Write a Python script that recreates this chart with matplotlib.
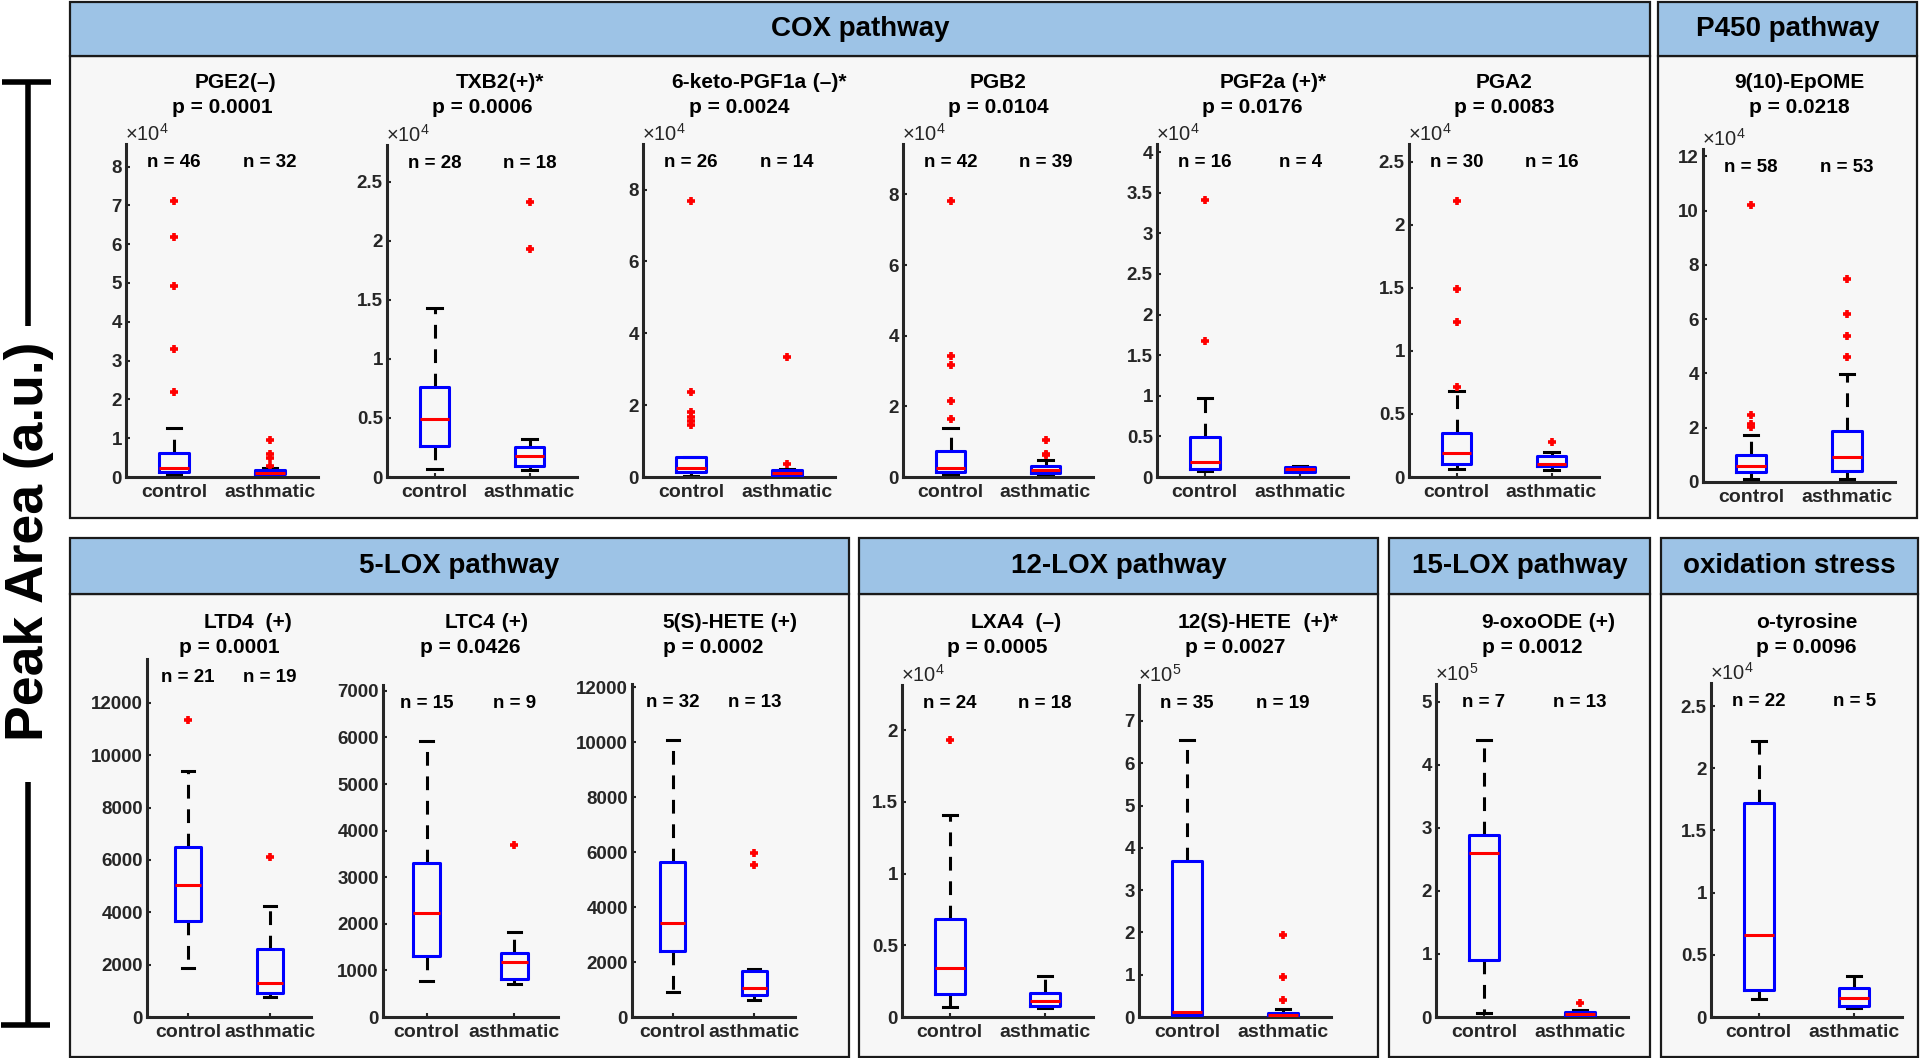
import numpy as np
import matplotlib.pyplot as plt
from matplotlib.patches import Rectangle
from matplotlib.lines import Line2D

plt.rcParams['font.family'] = ['Liberation Sans', 'DejaVu Sans']
plt.rcParams['mathtext.default'] = 'regular'

W, H = 1920, 1058

# ---------------- data ----------------
names = ['PGE2', 'TXB2', '6-keto-PGF1a', 'PGB2', 'PGF2a', 'PGA2', '9(10)-EpOME',
         'LTD4', 'LTC4', '5(S)-HETE', 'LXA4', '12(S)-HETE', '9-oxoODE', 'o-tyrosine']
signs = ['(–)', '(+)*', ' (–)*', '', ' (+)*', '', '',
         '  (+)', ' (+)', ' (+)', '  (–)', '  (+)*', ' (+)', '']
pvals = ['0.0001', '0.0006', '0.0024', '0.0104', '0.0176', '0.0083', '0.0218',
         '0.0001', '0.0426', '0.0002', '0.0005', '0.0027', '0.0012', '0.0096']
n_ctrl = [46, 28, 26, 42, 16, 30, 58, 21, 15, 32, 24, 35, 7, 22]
n_asth = [32, 18, 14, 39, 4, 16, 53, 19, 9, 13, 18, 19, 13, 5]
groups = ['control', 'asthmatic']

# box statistics (raw peak area)
ctrl_q1 = [1300, 2600, 1400, 1400, 1000, 1060, 3700, 3676, 1319, 2400, 1600, 4000, 91000, 2200]
ctrl_med = [2400, 4900, 2500, 2600, 1850, 1940, 5900, 5042, 2240, 3437, 3450, 11000, 260000, 6570]
ctrl_q3 = [6200, 7600, 5600, 7400, 4900, 3500, 9800, 6486, 3308, 5650, 6870, 370000, 288000, 17200]
ctrl_lo = [400, 700, 300, 500, 700, 660, 1000, 1891, 766, 900, 700, 2000, 6500, 1440]
ctrl_hi = [12500, 14300, 5600, 13800, 9700, 6800, 17200, 9414, 5931, 10062, 14100, 654000, 439000, 22200]
ctrl_out = [[71200, 61900, 49300, 33000, 21800], [], [76900, 23800, 18200, 16800, 15700, 14500],
            [78300, 34300, 31600, 21500, 16400], [34100, 16700], [21900, 14900, 12300, 7100],
            [101900, 24600, 21300, 20300], [11357], [], [], [19300], [], [], []]

asth_q1 = [700, 900, 400, 1100, 600, 850, 4100, 906, 810, 800, 770, 2000, 1000, 910]
asth_med = [1100, 1800, 1000, 2100, 950, 1060, 9200, 1313, 1171, 1062, 1130, 4000, 4000, 1520]
asth_q3 = [1700, 2500, 2000, 3000, 1200, 1670, 18800, 2587, 1363, 1675, 1650, 10000, 8000, 2350]
asth_lo = [300, 600, 200, 500, 600, 530, 1000, 748, 715, 612, 650, 1000, 500, 750]
asth_hi = [2400, 3200, 2200, 4900, 1300, 2000, 39800, 4254, 1820, 1750, 2850, 18000, 11000, 3300]
asth_out = [[9500, 6000, 5000, 2800], [23300, 19300], [33300, 3600], [10400, 6600, 6200], [],
            [2800], [74800, 62000, 53800, 46000], [6132], [3684], [5962, 5512], [],
            [193000, 95000, 40000], [22000], []]

# y axis: exponent of the multiplier, tick step, last tick, upper limit (raw)
y_exp = [4, 4, 4, 4, 4, 4, 4, 0, 0, 0, 4, 5, 5, 4]
y_step = [10000, 5000, 20000, 20000, 5000, 5000, 20000, 2000, 1000, 2000, 5000, 100000, 100000, 5000]
y_tmax = [80000, 25000, 80000, 80000, 40000, 25000, 120000, 12000, 7000, 12000, 20000, 700000, 500000, 25000]
y_top = [85800, 28100, 92700, 94300, 41000, 26400, 122700, 13680, 7125, 12112, 23160, 785000, 528000, 26850]

# pathway headers
pathways = ['COX pathway', 'P450 pathway', '5-LOX pathway', '12-LOX pathway', '15-LOX pathway', 'oxidation stress']

# ---------------- layout (pixels) ----------------
# axes: left, right, top, bottom
axes_px = [(126, 318, 144, 477), (387, 577, 145, 477), (643, 835, 144, 477), (903, 1093, 144, 477),
           (1157, 1348, 144, 477), (1409, 1599, 144, 477), (1703, 1895, 149, 482),
           (147, 311, 659, 1017), (383, 558, 685, 1017), (632, 795, 684, 1017),
           (902, 1093, 685, 1017), (1139, 1331, 685, 1017), (1436, 1628, 684, 1017), (1711, 1902, 683, 1017)]
row_of = [0] * 7 + [1] * 7
title_y = [(88, 113), (628, 653)]
# panels: x0, x1, top, header bottom, bottom
panels_px = [(70, 1650, 2, 56, 518), (1658, 1917, 2, 56, 518),
             (70, 849, 538, 594, 1057), (859, 1378, 538, 594, 1057),
             (1389, 1650, 538, 594, 1057), (1661, 1918, 538, 594, 1057)]


def fx(px):
    return px / W


def fy(py):
    return 1 - py / H


fig = plt.figure(figsize=(19.2, 10.58), dpi=100)

# pathway panels
for label, (x0, x1, y0, yh, y1) in zip(pathways, panels_px):
    fig.add_artist(Rectangle((fx(x0), fy(y1)), fx(x1) - fx(x0), fy(yh) - fy(y1),
                             transform=fig.transFigure, facecolor='#f7f7f7',
                             edgecolor='#1a1a1a', lw=1.6, zorder=-5))
    fig.add_artist(Rectangle((fx(x0), fy(yh)), fx(x1) - fx(x0), fy(y0) - fy(yh),
                             transform=fig.transFigure, facecolor='#9dc3e6',
                             edgecolor='#1a1a1a', lw=1.6, zorder=-4))
    fig.text(fx((x0 + x1) / 2), fy((y0 + yh) / 2), label, ha='center', va='center',
             fontsize=20, fontweight='bold')

# shared y label with bracket
fig.text(fx(29), fy(541), 'Peak Area (a.u.)', rotation=90, ha='center', va='center',
         fontsize=38.5, fontweight='bold')
bk = dict(color='black', lw=4, transform=fig.transFigure, solid_capstyle='butt')
fig.add_artist(Line2D([fx(28), fx(28)], [fy(82), fy(326)], **bk))
fig.add_artist(Line2D([fx(28), fx(28)], [fy(782), fy(1025)], **bk))
fig.add_artist(Line2D([fx(2), fx(51)], [fy(82), fy(82)], **bk))
fig.add_artist(Line2D([fx(1), fx(50)], [fy(1025), fy(1025)], **bk))

for i in range(len(names)):
    l, r, t, b = axes_px[i]
    ax = fig.add_axes([fx(l), fy(b), fx(r) - fx(l), fy(t) - fy(b)])
    ax.set_facecolor('none')

    stats = [dict(med=ctrl_med[i], q1=ctrl_q1[i], q3=ctrl_q3[i], whislo=ctrl_lo[i],
                  whishi=ctrl_hi[i], fliers=ctrl_out[i]),
             dict(med=asth_med[i], q1=asth_q1[i], q3=asth_q3[i], whislo=asth_lo[i],
                  whishi=asth_hi[i], fliers=asth_out[i])]
    ax.bxp(stats, positions=[1, 2], widths=0.31, capwidths=0.15, manage_ticks=False,
           boxprops=dict(color='#0000ff', linewidth=2.2, zorder=4),
           medianprops=dict(color='#ff0000', linewidth=2.2, zorder=5),
           whiskerprops=dict(color='black', linewidth=2.2, linestyle=(0, (4.5, 3.5)), zorder=2),
           capprops=dict(color='black', linewidth=2.2, zorder=2),
           flierprops=dict(marker='+', markeredgecolor='#ff0000', markersize=6,
                           markeredgewidth=2.6, linestyle='none', zorder=3))

    ax.set_xlim(0.5, 2.5)
    ax.set_ylim(0, y_top[i])
    for s in ['top', 'right']:
        ax.spines[s].set_visible(False)
    for s in ['left', 'bottom']:
        ax.spines[s].set_linewidth(2.2)
        ax.spines[s].set_color('#262626')
    ax.tick_params(direction='in', length=3, width=1.5, colors='#262626')
    ax.tick_params(axis='y', pad=3)
    ax.tick_params(axis='x', pad=5)

    ticks = np.arange(0, y_tmax[i] + y_step[i] / 2, y_step[i])
    ax.set_yticks(ticks)
    ax.set_yticklabels([f'{v / 10 ** y_exp[i]:g}' for v in ticks], fontsize=13.5,
                       fontweight='bold', color='#262626')
    ax.set_xticks([1, 2])
    ax.set_xticklabels(groups, fontsize=14, fontweight='bold', color='#262626')

    if y_exp[i] > 0:
        ax.text(-0.005, 0.998, r'$\times10^{%d}$' % y_exp[i], transform=ax.transAxes,
                ha='left', va='bottom', fontsize=14.5, color='#262626')

    # n labels
    for xpos, n in zip([1, 2], [n_ctrl[i], n_asth[i]]):
        ax.annotate(f'n = {n}', xy=(xpos, 1), xycoords=('data', 'axes fraction'),
                    xytext=(0, -23 * 0.72), textcoords='offset points',
                    ha='center', va='baseline', fontsize=13.5, fontweight='bold')

    # title: compound name (+ sign) and p value
    cx = fx((l + r) / 2)
    ny, py = title_y[row_of[i]]
    tn = fig.text(cx, fy(ny), names[i], ha='center', va='baseline',
                  fontsize=15, fontweight='bold')
    if signs[i]:
        ax.annotate(signs[i], xy=(1, 0), xycoords=tn, ha='left', va='bottom',
                    fontsize=15, fontweight='bold', annotation_clip=False)
    fig.text(cx, fy(py), f'p = {pvals[i]}', ha='center', va='baseline',
             fontsize=15, fontweight='bold')

fig.savefig('out.png', dpi=100, facecolor='white')
